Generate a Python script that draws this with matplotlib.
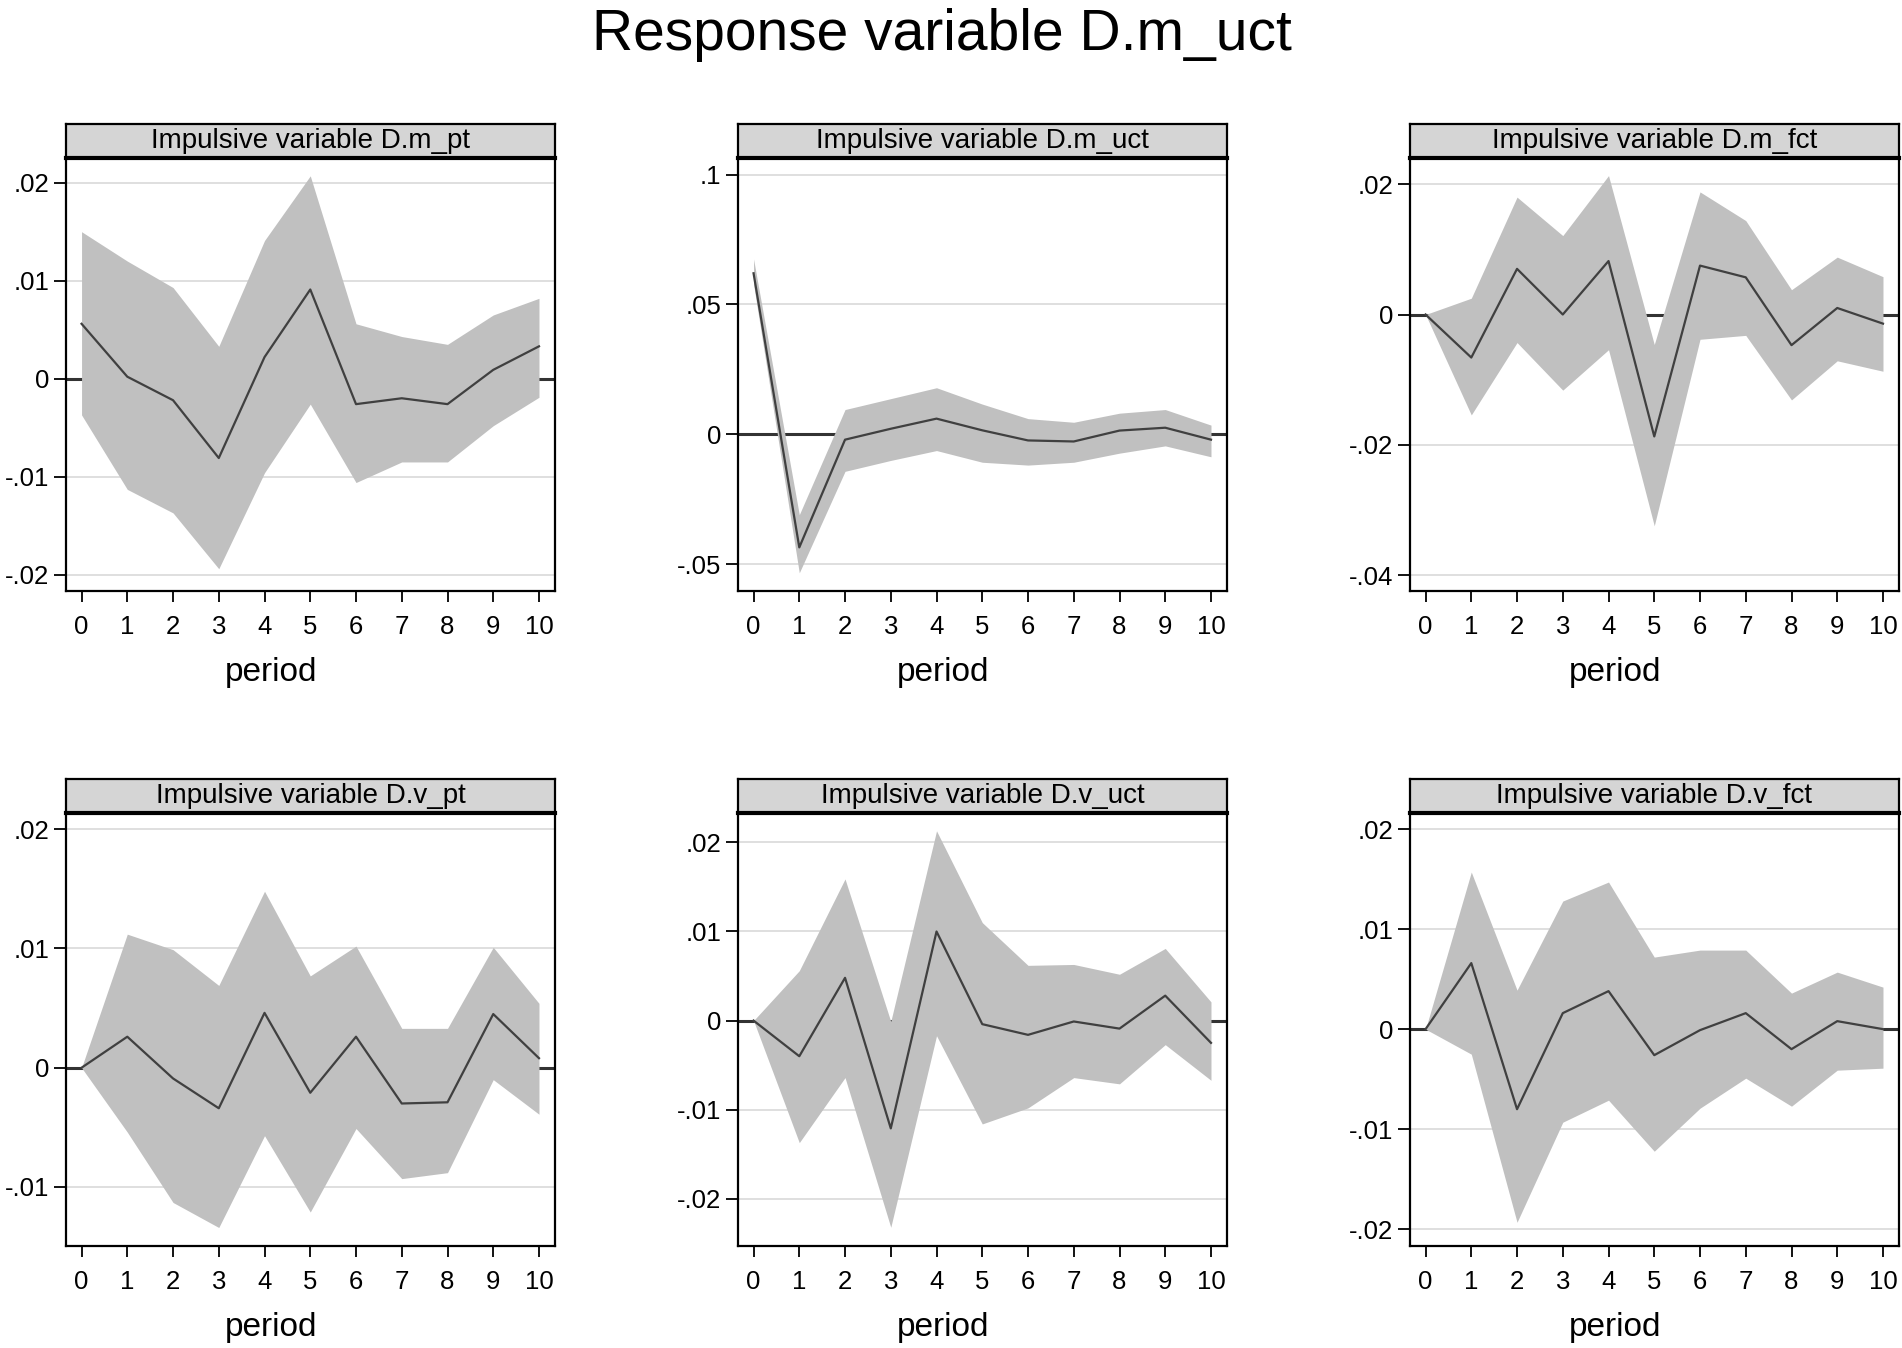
import numpy as np
import matplotlib
matplotlib.use('Agg')
from matplotlib import pyplot as plt
from matplotlib.ticker import FuncFormatter

plt.rcParams['font.family'] = ['Liberation Sans', 'DejaVu Sans']

period = list(range(11))
response_name = "D.m_uct"
impulse_names = ["D.m_pt", "D.m_uct", "D.m_fct", "D.v_pt", "D.v_uct", "D.v_fct"]

# impulse response (middle line) and the confidence band
m_pt_irf = [0.0056, 0.0002, -0.0022, -0.0081, 0.0022, 0.0091, -0.0026, -0.0020, -0.0026, 0.0009, 0.0033]
m_pt_hi = [0.0150, 0.0120, 0.0093, 0.0033, 0.0141, 0.0207, 0.0056, 0.0043, 0.0035, 0.0065, 0.0082]
m_pt_lo = [-0.0037, -0.0113, -0.0137, -0.0194, -0.0096, -0.0026, -0.0106, -0.0085, -0.0085, -0.0048, -0.0019]

m_uct_irf = [0.0620, -0.0436, -0.0021, 0.0021, 0.0060, 0.0015, -0.0024, -0.0028, 0.0014, 0.0025, -0.0021]
m_uct_hi = [0.0675, -0.0310, 0.0095, 0.0137, 0.0179, 0.0116, 0.0060, 0.0046, 0.0081, 0.0095, 0.0035]
m_uct_lo = [0.0578, -0.0534, -0.0143, -0.0101, -0.0063, -0.0108, -0.0119, -0.0108, -0.0073, -0.0045, -0.0087]

m_fct_irf = [0.0, -0.0066, 0.0070, 0.0, 0.0082, -0.0187, 0.0075, 0.0057, -0.0047, 0.0010, -0.0014]
m_fct_hi = [0.0, 0.0025, 0.0180, 0.0121, 0.0213, -0.0046, 0.0188, 0.0144, 0.0038, 0.0088, 0.0058]
m_fct_lo = [0.0, -0.0154, -0.0043, -0.0116, -0.0054, -0.0324, -0.0038, -0.0032, -0.0131, -0.0071, -0.0087]

v_pt_irf = [0.0, 0.0026, -0.0009, -0.0034, 0.0046, -0.0021, 0.0026, -0.0030, -0.0029, 0.0045, 0.0008]
v_pt_hi = [0.0, 0.0112, 0.0099, 0.0069, 0.0148, 0.0077, 0.0102, 0.0033, 0.0033, 0.0101, 0.0054]
v_pt_lo = [0.0, -0.0054, -0.0113, -0.0134, -0.0057, -0.0121, -0.0051, -0.0093, -0.0088, -0.0010, -0.0039]

v_uct_irf = [0.0, -0.0040, 0.0048, -0.0121, 0.0100, -0.0004, -0.0016, -0.0001, -0.0009, 0.0028, -0.0025]
v_uct_hi = [0.0, 0.0056, 0.0159, -0.0001, 0.0213, 0.0110, 0.0062, 0.0063, 0.0052, 0.0081, 0.0021]
v_uct_lo = [0.0, -0.0137, -0.0064, -0.0232, -0.0017, -0.0116, -0.0098, -0.0064, -0.0071, -0.0027, -0.0067]

v_fct_irf = [0.0, 0.0066, -0.0080, 0.0016, 0.0038, -0.0026, -0.0001, 0.0016, -0.0020, 0.0008, 0.0]
v_fct_hi = [0.0, 0.0157, 0.0039, 0.0128, 0.0147, 0.0072, 0.0079, 0.0079, 0.0036, 0.0057, 0.0042]
v_fct_lo = [0.0, -0.0025, -0.0193, -0.0093, -0.0071, -0.0122, -0.0079, -0.0049, -0.0077, -0.0041, -0.0039]

yticks = [
    [-0.02, -0.01, 0, 0.01, 0.02],
    [-0.05, 0, 0.05, 0.1],
    [-0.04, -0.02, 0, 0.02],
    [-0.01, 0, 0.01, 0.02],
    [-0.02, -0.01, 0, 0.01, 0.02],
    [-0.02, -0.01, 0, 0.01, 0.02],
]
ylims = [(-0.02167, 0.02252), (-0.0604, 0.1064), (-0.0424, 0.0240),
         (-0.01495, 0.02136), (-0.0253, 0.0233), (-0.02167, 0.0216)]

series = [
    (m_pt_irf, m_pt_lo, m_pt_hi),
    (m_uct_irf, m_uct_lo, m_uct_hi),
    (m_fct_irf, m_fct_lo, m_fct_hi),
    (v_pt_irf, v_pt_lo, v_pt_hi),
    (v_uct_irf, v_uct_lo, v_uct_hi),
    (v_fct_irf, v_fct_lo, v_fct_hi),
]


def stata_fmt(v, pos):
    if abs(v) < 1e-12:
        return '0'
    return ('%g' % v).replace('0.', '.', 1)


W, H = 1902, 1348
fig = plt.figure(figsize=(W / 100, H / 100), dpi=100)
fig.text(0.495, 1 - 50 / H, "Response variable " + response_name,
         ha='center', va='baseline', fontsize=41)

col_left = [66, 738, 1410]
row_top = [158, 813]
ax_w, ax_h, strip_h = 489, 433, 34

for i in range(6):
    r, c = divmod(i, 3)
    left = col_left[c] / W
    bottom = 1 - (row_top[r] + ax_h) / H
    ax = fig.add_axes([left, bottom, ax_w / W, ax_h / H])
    irf, lo, hi = series[i]

    for t in yticks[i]:
        if t != 0:
            ax.axhline(t, color='#dcdcdc', lw=1.3, zorder=0)
    ax.axhline(0, color='#333333', lw=2.2, zorder=1)
    ax.fill_between(period, lo, hi, color='#c0c0c0', lw=0, zorder=2)
    ax.plot(period, irf, color='#404040', lw=1.6, zorder=3)

    ax.set_xlim(-0.34, 10.35)
    ax.set_ylim(*ylims[i])
    ax.set_xticks(period)
    ax.set_yticks(yticks[i])
    ax.yaxis.set_major_formatter(FuncFormatter(stata_fmt))
    ax.tick_params(axis='x', direction='out', length=8, width=1.3, pad=9, labelsize=18.5)
    ax.tick_params(axis='y', direction='out', length=9, width=1.3, pad=3, labelsize=18.5)
    for s in ax.spines.values():
        s.set_linewidth(1.6)
    ax.set_xlabel("period", fontsize=24, labelpad=13)
    ax.xaxis.label.set_x(0.42)

    sax = fig.add_axes([left, 1 - row_top[r] / H, ax_w / W, strip_h / H])
    sax.set_facecolor('#d5d5d5')
    sax.set_xticks([])
    sax.set_yticks([])
    for s in sax.spines.values():
        s.set_linewidth(1.6)
    sax.spines['bottom'].set_linewidth(3)
    sax.text(0.5, 0.5, "Impulsive variable " + impulse_names[i],
             ha='center', va='center', fontsize=20, transform=sax.transAxes)

fig.savefig("out.png", dpi=100)
